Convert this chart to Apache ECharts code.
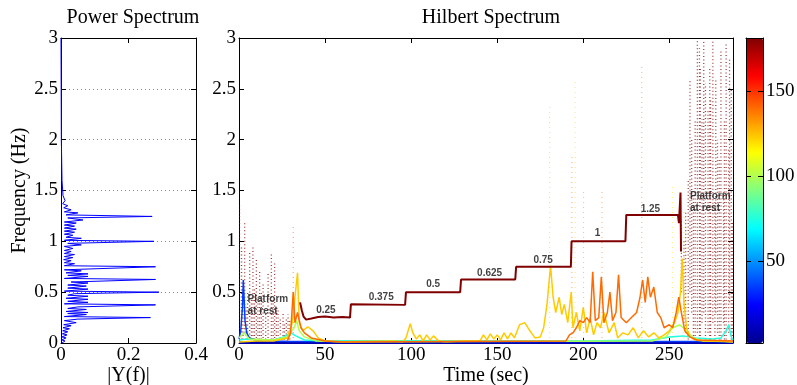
<!DOCTYPE html>
<html>
<head>
<meta charset="utf-8">
<script src="https://cdn.jsdelivr.net/npm/echarts@6/dist/echarts.min.js"></script>
<style>
  html, body { margin: 0; padding: 0; background: #fff; }
  #chart { width: 797px; height: 385px; }
</style>
</head>
<body>
<div id="chart"></div>
<script>
// power spectrum: [|Y(f)|, frequency]
const powerSpectrum = [
  [0.003, 0], [0.012, 0.02], [0.002, 0.03], [0.015, 0.05], [0.003, 0.06], [0.018, 0.08],
  [0.004, 0.09], [0.02, 0.11], [0.005, 0.12], [0.025, 0.14], [0.006, 0.15], [0.03, 0.17],
  [0.008, 0.18], [0.045, 0.2], [0.01, 0.22], [0.05, 0.235], [0.265, 0.25], [0.01, 0.26],
  [0.075, 0.28], [0.02, 0.29], [0.08, 0.3], [0.015, 0.31], [0.075, 0.33], [0.02, 0.34],
  [0.05, 0.355], [0.28, 0.375], [0.01, 0.385], [0.08, 0.4], [0.02, 0.41], [0.08, 0.43],
  [0.015, 0.44], [0.08, 0.46], [0.02, 0.47], [0.04, 0.485], [0.29, 0.5], [0.01, 0.51],
  [0.08, 0.53], [0.02, 0.54], [0.075, 0.56], [0.02, 0.57], [0.08, 0.59], [0.03, 0.6],
  [0.28, 0.625], [0.01, 0.635], [0.08, 0.655], [0.02, 0.665], [0.08, 0.68], [0.015, 0.69],
  [0.06, 0.71], [0.01, 0.72], [0.28, 0.75], [0.01, 0.76], [0.04, 0.78], [0.01, 0.79],
  [0.03, 0.81], [0.008, 0.82], [0.035, 0.84], [0.01, 0.85], [0.04, 0.87], [0.01, 0.88],
  [0.03, 0.9], [0.01, 0.91], [0.035, 0.93], [0.01, 0.95], [0.06, 0.965], [0.02, 0.98],
  [0.275, 1.0], [0.01, 1.01], [0.06, 1.03], [0.015, 1.04], [0.035, 1.06], [0.01, 1.07],
  [0.04, 1.09], [0.01, 1.1], [0.045, 1.12], [0.01, 1.13], [0.04, 1.15], [0.01, 1.16],
  [0.045, 1.18], [0.01, 1.19], [0.065, 1.21], [0.02, 1.23], [0.27, 1.245], [0.015, 1.26],
  [0.05, 1.28], [0.01, 1.29], [0.03, 1.31], [0.008, 1.33], [0.02, 1.35], [0.005, 1.37],
  [0.012, 1.4], [0.006, 1.45], [0.005, 1.5], [0.003, 1.6], [0.002, 1.8], [0.001, 2.0], [0, 3.0]
];

// Hilbert spectrum curves: [time (s), frequency (Hz)]
const navyCurve = [[0, 0.006], [287, 0.006]];
const blueCurve = [[0, 0.04], [1, 0.12], [2, 0.35], [2.5, 0.62], [3, 0.42], [3.5, 0.22], [4.5, 0.1],
  [6, 0.05], [10, 0.03], [20, 0.02], [30, 0.015], [40, 0.014], [287, 0.014]];
const cyanCurve = [[0, 0.03], [5, 0.04], [10, 0.03], [20, 0.03], [26, 0.06], [30, 0.1], [33, 0.07],
  [38, 0.03], [50, 0.02], [100, 0.022], [150, 0.02], [200, 0.02], [240, 0.03], [250, 0.06],
  [258, 0.07], [265, 0.05], [275, 0.04], [280, 0.05], [283, 0.12], [284.5, 0.18], [286, 0.06], [287, 0.03]];
const greenCurve = [[0, 0.05], [3, 0.1], [6, 0.04], [20, 0.03], [28, 0.06], [32, 0.15], [33.5, 0.22],
  [35, 0.12], [38, 0.06], [45, 0.02], [60, 0.012], [240, 0.02], [248, 0.06], [252, 0.15],
  [256, 0.18], [260, 0.12], [264, 0.05], [270, 0.02], [287, 0.012]];
const yellowCurve = [[0, 0.01], [10, 0.02], [20, 0.02], [28, 0.05], [31, 0.2], [32.5, 0.45], [34, 0.69],
  [35, 0.2], [37, 0.12], [40, 0.16], [43, 0.12], [46, 0.05], [50, 0.02], [60, 0.012], [90, 0.02],
  [95, 0.012], [97, 0.05], [99.5, 0.19], [101, 0.1], [103, 0.04], [105, 0.08], [107, 0.02],
  [109, 0.08], [111, 0.03], [113, 0.07], [116, 0.02], [120, 0.012], [130, 0.02], [140, 0.02],
  [142, 0.08], [144, 0.03], [146, 0.09], [148, 0.04], [150, 0.08], [152, 0.03], [154, 0.1],
  [156, 0.04], [158, 0.1], [160, 0.05], [163, 0.18], [166, 0.2], [169, 0.12], [172, 0.05],
  [175, 0.06], [177, 0.15], [179, 0.39], [181, 0.76], [182.5, 0.45], [184, 0.3], [186, 0.45],
  [187.5, 0.28], [189, 0.38], [191, 0.2], [193, 0.5], [194, 0.15], [196, 0.3], [198, 0.12],
  [200, 0.35], [202, 0.1], [204, 0.25], [206, 0.08], [208, 0.2], [210, 0.15], [212, 0.3],
  [215, 0.1], [218, 0.2], [220, 0.05], [223, 0.1], [226, 0.08], [229, 0.15], [232, 0.05],
  [235, 0.12], [238, 0.06], [241, 0.1], [244, 0.05], [247, 0.08], [250, 0.12], [253, 0.2],
  [255, 0.3], [256.5, 0.5], [257.5, 0.83], [258.5, 0.4], [260, 0.15], [262, 0.06], [265, 0.03],
  [270, 0.02], [280, 0.02], [287, 0.01]];
const orangeCurve = [[28, 0.02], [30, 0.1], [31.5, 0.5], [32.5, 0.2], [34, 0.3], [36, 0.15], [38, 0.1],
  [42, 0.05], [50, 0.02], [60, 0.01], [190, 0.02], [192, 0.08], [194, 0.1], [196, 0.15],
  [198, 0.22], [200, 0.2], [202, 0.25], [204, 0.2], [205.5, 0.7], [207, 0.22], [209, 0.25],
  [210.5, 0.65], [212, 0.2], [214, 0.3], [215.5, 0.5], [217, 0.22], [219, 0.3], [220.5, 0.67],
  [222, 0.25], [225, 0.2], [228, 0.25], [231, 0.3], [233, 0.45], [234.5, 0.62], [236, 0.4],
  [237.5, 0.65], [239, 0.45], [241, 0.55], [243, 0.3], [245, 0.25], [247, 0.15], [250, 0.18],
  [252, 0.15], [254, 0.3], [255.5, 0.45], [257, 0.3], [259, 0.12], [262, 0.06], [266, 0.03], [287, 0.02]];
const stairCurve = [[35.5, 0.4], [36.5, 0.32], [37.5, 0.26], [39, 0.23], [42, 0.24], [46, 0.255],
  [50, 0.26], [55, 0.25], [60, 0.255], [64.5, 0.25], [65, 0.38], [96.5, 0.375], [97, 0.5],
  [128.5, 0.5], [129, 0.625], [160.5, 0.625], [161, 0.75], [192.8, 0.75], [193.2, 1.0],
  [224.5, 1.0], [225, 1.26], [255, 1.26], [255.6, 1.18], [256.2, 1.18], [256.5, 1.48], [256.8, 0.9]];

// colour value of each curve (colorbar units)
const navyValue = 8, blueValue = 35, cyanValue = 75, greenValue = 100;
const yellowValue = 123, orangeValue = 140, stairValue = 181;

// dotted vertical streaks of scattered points: [time, from f, to f]
const noiseStreaks = [
  [0.3, 0, 1.35], [1.5, 0, 0.95], [2.3, 0, 0.6], [3.3, 0.1, 1.19], [4.2, 0, 0.35], [5, 0, 0.5],
  [6.2, 0.05, 0.9], [7.2, 0, 0.45], [8.1, 0, 0.95], [9, 0, 0.55], [10.1, 0.05, 0.82], [11, 0, 0.4],
  [12, 0, 0.72], [13, 0, 0.5], [14, 0.05, 0.59], [15.5, 0, 0.3], [16.9, 0.05, 0.69],
  [18.8, 0, 0.88], [19.8, 0, 0.45], [20.7, 0.05, 0.8], [21.7, 0, 0.35], [22.7, 0, 0.33],
  [24, 0.05, 0.25], [25.6, 0, 0.3], [26.5, 0, 0.2], [27.5, 0.05, 0.23], [28.5, 0, 0.28], [29.5, 0, 0.23],
  [257, 0.5, 1.2], [258.5, 0.2, 1.0], [259.5, 0.1, 1.3], [261, 0, 1.6], [262, 0.5, 2.59],
  [263, 0.3, 2.0], [264, 0, 1.45], [265, 0, 2.2], [266.3, 0.1, 2.98], [267.5, 0, 2.9],
  [268, 0, 2.7], [269, 0.2, 2.2], [270, 0.3, 2.98], [271, 0, 2.55], [272.5, 0.1, 2.3],
  [273.5, 0, 2.7], [274, 0, 2.4], [275.3, 0.2, 2.98], [276.5, 0, 1.4], [277, 0.3, 2.6],
  [278, 0.1, 2.0], [279, 0, 1.8], [280, 0, 2.88], [281.5, 0.2, 1.5], [282, 0, 2.2],
  [283, 0, 2.95], [284.5, 0.1, 1.9], [285, 0.4, 2.8], [286, 0, 2.5], [286.7, 0, 1.2]
];
// faint dotted vertical spikes: [time, top f, colour value]
const faintSpikes = [
  [31.5, 1.15, 150], [180.5, 2.34, 125], [193.4, 1.85, 140], [195.3, 2.57, 120],
  [200.2, 1.5, 135], [210.9, 1.52, 140], [234, 2.75, 140], [251.8, 1.54, 120], [258.5, 1.3, 125]
];

// annotations
const noteT = [5, 50.5, 82.6, 112.8, 145.6, 176.7, 208.3, 239, 262];
const noteF = [0.37, 0.32, 0.45, 0.58, 0.69, 0.81, 1.08, 1.32, 1.38];
const noteText = ['Platform\nat rest', '0.25', '0.375', '0.5', '0.625', '0.75', '1', '1.25', 'Platform\nat rest'];
const colorbarTicks = [50, 100, 150];

const cMin = 2, cMax = 181;
const jetStops = ['#00008f', '#0000ff', '#0080ff', '#00ffff', '#80ff80', '#ffff00', '#ff8000', '#ff0000', '#800000'];

function hexRgb(h) {
  return [1, 3, 5].map(i => parseInt(h.slice(i, i + 2), 16));
}
function jet(v) {
  const t = Math.min(1, Math.max(0, (v - cMin) / (cMax - cMin))) * (jetStops.length - 1);
  const i = Math.min(jetStops.length - 2, Math.floor(t));
  const f = t - i;
  const a = hexRgb(jetStops[i]), b = hexRgb(jetStops[i + 1]);
  return 'rgb(' + a.map((c, k) => Math.round(c + (b[k] - c) * f)).join(',') + ')';
}

const serif = 'Liberation Serif';
const boxLine = { show: true, onZero: false, lineStyle: { color: '#000', width: 1 } };
const tickIn = { show: true, inside: true, length: 5, lineStyle: { color: '#000' } };
const labelStyle = { color: '#000', fontFamily: serif, fontSize: 19, margin: 3 };
const nameStyle = { fontFamily: serif, fontSize: 20, color: '#000' };

const chart = echarts.init(document.getElementById('chart'));

function curve(data, value, width, xi, yi) {
  return {
    type: 'line', xAxisIndex: xi, yAxisIndex: yi, data, showSymbol: false, symbol: 'none',
    lineStyle: { color: jet(value), width }, z: 3
  };
}

const option = {
  animation: false,
  backgroundColor: '#fff',
  title: [
    { text: 'Power Spectrum', left: 128, top: 3, textAlign: 'center',
      textStyle: { fontFamily: serif, fontSize: 20, fontWeight: 'normal', color: '#000' } },
    { text: 'Hilbert Spectrum', left: 486, top: 3, textAlign: 'center',
      textStyle: { fontFamily: serif, fontSize: 20, fontWeight: 'normal', color: '#000' } }
  ],
  grid: [
    { left: 61, top: 38, width: 135, height: 305, outerBoundsMode: 'none' },
    { left: 239, top: 38, width: 494, height: 305, outerBoundsMode: 'none' },
    { left: 746, top: 38, width: 17, height: 305, outerBoundsMode: 'none' }
  ],
  visualMap: {
    type: 'continuous', min: cMin, max: cMax, seriesIndex: 11, calculable: false,
    left: 746, top: 38, itemWidth: 17, itemHeight: 305, padding: 0, text: null,
    showLabel: false, hoverLink: false, inRange: { color: jetStops }
  },
  xAxis: [
    { gridIndex: 0, type: 'value', min: 0, max: 0.4, interval: 0.2, axisLine: boxLine, axisTick: tickIn,
      axisLabel: labelStyle, splitLine: { show: false },
      name: '|Y(f)|', nameLocation: 'middle', nameGap: 23, nameMoveOverlap: false, nameTextStyle: nameStyle },
    { gridIndex: 0, type: 'value', position: 'top', min: 0, max: 0.4, interval: 0.2, axisLine: boxLine,
      axisTick: tickIn, axisLabel: { show: false }, splitLine: { show: false } },
    { gridIndex: 1, type: 'value', min: 0, max: 287, interval: 50, axisLine: boxLine, axisTick: tickIn,
      axisLabel: Object.assign({ showMaxLabel: false }, labelStyle), splitLine: { show: false },
      name: 'Time (sec)', nameLocation: 'middle', nameGap: 23, nameMoveOverlap: false, nameTextStyle: nameStyle },
    { gridIndex: 1, type: 'value', position: 'top', min: 0, max: 287, interval: 50, axisLine: boxLine,
      axisTick: tickIn, axisLabel: { show: false }, splitLine: { show: false } },
    { gridIndex: 2, type: 'value', min: 0, max: 1, axisLine: boxLine,
      axisTick: { show: false }, axisLabel: { show: false }, splitLine: { show: false }, z: 10 },
    { gridIndex: 2, type: 'value', position: 'top', min: 0, max: 1, axisLine: boxLine,
      axisTick: { show: false }, axisLabel: { show: false }, splitLine: { show: false }, z: 10 }
  ],
  yAxis: [
    { gridIndex: 0, type: 'value', min: 0, max: 3, interval: 0.5, axisLine: boxLine, axisTick: tickIn,
      axisLabel: labelStyle,
      splitLine: { show: true, lineStyle: { color: '#888', type: [1, 3], width: 1 } },
      name: 'Frequency (Hz)', nameLocation: 'middle', nameGap: 31, nameRotate: 90,
      nameMoveOverlap: false, nameTextStyle: nameStyle },
    { gridIndex: 0, type: 'value', position: 'right', min: 0, max: 3, interval: 0.5, axisLine: boxLine,
      axisTick: tickIn, axisLabel: { show: false }, splitLine: { show: false } },
    { gridIndex: 1, type: 'value', min: 0, max: 3, interval: 0.5, axisLine: boxLine, axisTick: tickIn,
      axisLabel: labelStyle, splitLine: { show: false } },
    { gridIndex: 1, type: 'value', position: 'right', min: 0, max: 3, interval: 0.5, axisLine: boxLine,
      axisTick: tickIn, axisLabel: { show: false }, splitLine: { show: false } },
    { gridIndex: 2, type: 'value', min: cMin, max: cMax, axisLine: boxLine,
      axisTick: Object.assign({ customValues: colorbarTicks }, tickIn), axisLabel: { show: false },
      splitLine: { show: false }, z: 10 },
    { gridIndex: 2, type: 'value', position: 'right', min: cMin, max: cMax, axisLine: boxLine,
      axisTick: Object.assign({ customValues: colorbarTicks }, tickIn),
      axisLabel: Object.assign({ customValues: colorbarTicks }, labelStyle),
      splitLine: { show: false }, z: 10 }
  ],
  series: [
    { type: 'line', xAxisIndex: 0, yAxisIndex: 0, data: powerSpectrum, showSymbol: false, symbol: 'none',
      lineStyle: { color: '#0000ff', width: 1 } },
    { type: 'custom', xAxisIndex: 2, yAxisIndex: 2, data: noiseStreaks, clip: true,
      encode: { x: 0, y: [1, 2] }, z: 2,
      renderItem: (params, api) => {
        const a = api.coord([api.value(0), api.value(1)]);
        const b = api.coord([api.value(0), api.value(2)]);
        return { type: 'line', shape: { x1: a[0], y1: a[1], x2: b[0], y2: b[1] },
          style: { stroke: jet(stairValue), lineWidth: 1.3, lineDash: [1, 2.5], opacity: 0.75 } };
      } },
    { type: 'custom', xAxisIndex: 2, yAxisIndex: 2, data: faintSpikes, clip: true,
      encode: { x: 0, y: 1 }, z: 2,
      renderItem: (params, api) => {
        const a = api.coord([api.value(0), 0]);
        const b = api.coord([api.value(0), api.value(1)]);
        return { type: 'line', shape: { x1: a[0], y1: a[1], x2: b[0], y2: b[1] },
          style: { stroke: jet(api.value(2)), lineWidth: 1, lineDash: [1, 4], opacity: 0.55 } };
      } },
    curve(navyCurve, navyValue, 3, 2, 2),
    curve(blueCurve, blueValue, 1.5, 2, 2),
    curve(cyanCurve, cyanValue, 1.5, 2, 2),
    curve(greenCurve, greenValue, 1.5, 2, 2),
    curve(yellowCurve, yellowValue, 1.5, 2, 2),
    curve(orangeCurve, orangeValue, 1.5, 2, 2),
    curve(stairCurve, stairValue, 2, 2, 2),
    { type: 'scatter', xAxisIndex: 2, yAxisIndex: 2, symbolSize: 0, z: 5,
      data: noteT.map((t, i) => ({
        value: [t, noteF[i]],
        label: { show: true, formatter: noteText[i], position: 'inside',
          align: noteText[i].length > 5 ? 'left' : 'center', verticalAlign: 'middle',
          fontFamily: 'Liberation Sans', fontWeight: 'bold', fontSize: 10, color: '#111', lineHeight: 12 }
      })) },
    { type: 'scatter', xAxisIndex: 4, yAxisIndex: 4, data: [], symbolSize: 0 }
  ]
};

chart.setOption(option);
</script>
</body>
</html>
